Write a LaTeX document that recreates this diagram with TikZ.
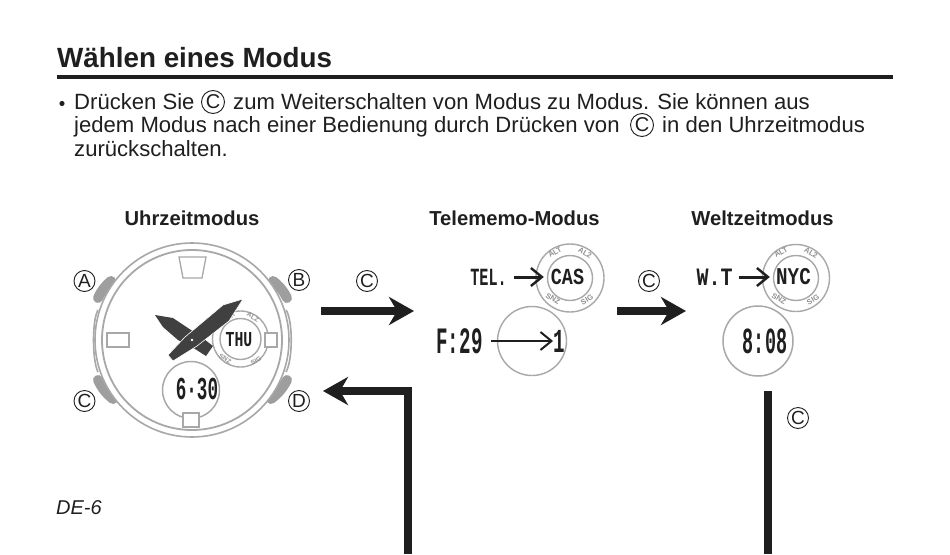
\documentclass[tikz,border=0pt]{standalone}
\usepackage{graphicx}
\usepackage{fontspec}
\setmainfont{Liberation Sans}
\newfontfamily\lcdfont{Liberation Mono}[FakeStretch=0.8]
\usetikzlibrary{arrows.meta}
\definecolor{ink}{gray}{0.12}
\definecolor{watch}{gray}{0.66}
\definecolor{btn}{gray}{0.62}
\definecolor{hand}{gray}{0.25}
\newcommand{\lcdtext}[3]{\scalebox{1}[#2]{\lcdfont\bfseries\fontsize{#1}{#1}\selectfont #3}}
\tikzset{x=1pt,y=-1pt,
 txt/.style={anchor=base west,inner sep=0,text=ink,font=\fontsize{22.1}{25}\selectfont},
 colhead/.style={anchor=base,inner sep=0,text=ink,font=\bfseries\fontsize{20.2}{23}\selectfont},
 circlab/.style={circle,draw=ink,line width=0.9pt,minimum size=21pt,inner sep=0,text=ink,font=\fontsize{19}{19}\selectfont},
 circlabi/.style={circle,draw=ink,line width=0.9pt,minimum size=23pt,inner sep=0,text=ink,font=\fontsize{20}{20}\selectfont},
 wl/.style={draw=watch,line width=1.6pt},
 ring/.style={circle,draw=watch,line width=1.4pt,inner sep=0},
 lcd/.style={inner sep=0,text=ink},
 tiny/.style={inner sep=0,text=watch!85!black,font=\bfseries\fontsize{7.5}{7}\selectfont},
 tinier/.style={tiny,font=\bfseries\fontsize{6.5}{6}\selectfont},
 thick arrow/.style={line width=7.5pt,draw=ink,-{Stealth[length=25pt,width=28pt,inset=8pt]}},
 thick line/.style={line width=7.5pt,draw=ink},
 thin arrow/.style={draw=ink,line width=1.4pt,-{Straight Barb[length=11pt,width=18pt,line width=2pt]}},
 med arrow/.style={draw=ink,line width=3pt,shorten >=3pt,-{Straight Barb[length=11pt,width=18pt,line width=2.4pt]}},
 lug/.style={line width=10pt,draw=btn,line cap=round}}
\begin{document}
\begin{tikzpicture}
\useasboundingbox (0,0) rectangle (950,554);
\fill[white] (0,0) rectangle (950,554);
% heading
\node[anchor=base west,inner sep=0,text=ink,font=\bfseries\fontsize{27.8}{30}\selectfont] (title) at (57,67) {Wählen eines Modus};
\coordinate (ruleL) at (57,77); \coordinate (ruleR) at (893,77);
\draw[ink,line width=3.2pt] (ruleL) -- (ruleR);
% body
\fill[ink] (62,103.5) circle (2.6);
\node[txt] (l1a) at (74,109) {Drücken Sie};
\node[circlabi] (c1) at (213,102) {C};
\node[txt] (l1b) at (233,109) {zum Weiterschalten von Modus zu Modus. Sie können aus};
\node[txt] (l2a) at (74,132) {jedem Modus nach einer Bedienung durch Drücken von};
\node[circlabi] (c2) at (642,125) {C};
\node[txt] (l2b) at (662,132) {in den Uhrzeitmodus};
\node[txt] (l3) at (74,156) {zurückschalten.};
% column heads
\node[colhead] (h1) at (192,225) {Uhrzeitmodus};
\node[colhead] (h2) at (514.5,225) {Telememo-Modus};
\node[colhead] (h3) at (762.5,225) {Weltzeitmodus};
% watch lugs
\draw[lug] (98,298) to[bend left=12] (111,281);
\draw[lug] (287,298) to[bend right=12] (273,281);
\draw[lug] (98,380) to[bend right=12] (113,399);
\draw[lug] (287,380) to[bend left=12] (271,399);
% watch case
\draw[wl,fill=white] (192,340) circle (97);
\draw[wl] (98,310) .. controls (92,320) and (92,360) .. (98,372);
\draw[wl] (286,310) .. controls (293,320) and (293,360) .. (286,372);
\draw[wl,line width=1.8pt] (192,340) circle (90);
\draw[wl,line width=1.3pt] (179,257) -- (206,257) -- (202,278) -- (183,278) -- cycle;
\draw[wl,line width=1.3pt] (107,333) rectangle (129,347);
% day subdial
\node[ring,minimum size=56pt,fill=white] (sub) at (240.5,339) {};
\node[ring,minimum size=41pt,fill=white] (subi) at (240.5,339) {};
\node[lcd] (thu) at (239,340) {\lcdtext{18.5}{1.15}{THU}};
\node[tinier,rotate=-30] (s1) at (253,317) {ALZ};
\node[tinier,rotate=30] (s2) at (230,317) {ALT};
\node[tinier,rotate=-30] (s3) at (225,359) {SNZ};
\node[tinier,rotate=30] (s4) at (256,361) {SIG};
\draw[wl,line width=1.3pt,fill=white] (265,333) rectangle (277,347);
% date subdial
\node[ring,minimum size=57pt,line width=1.5pt,fill=white] (date) at (191,390) {};
\node[lcd] (d630) at (197,389) {\lcdtext{22}{1.45}{6·30}};
\draw[wl,line width=1.3pt,fill=white] (183,413) rectangle (199,427);
% hands
\fill[hand] (155,315) -- (173,318) -- (200,336) -- (213,346) -- (206,356) -- (192,347) -- (178,340) -- (163,327) -- cycle;
\fill[hand,draw=white,line width=0.6pt] (243,299) -- (223,305) -- (185,337) -- (168,355) -- (173,361) -- (197,346) -- (229,321) -- cycle;
\fill[white] (192,340) circle (1.3);
% button labels
\node[circlab] (A) at (84.5,281) {A};
\node[circlab] (B) at (299,280) {B};
\node[circlab] (C) at (84.5,401) {C};
\node[circlab] (D) at (299,401) {D};
% flow arrows
\coordinate (a1s) at (321,311); \coordinate (a1e) at (414,311);
\draw[thick arrow] (a1s) -- (a1e);
\coordinate (a2s) at (617,311); \coordinate (a2e) at (686,311);
\draw[thick arrow] (a2s) -- (a2e);
\coordinate (r1) at (768,391); \coordinate (r2) at (768,554);
\draw[thick line] (r1) -- (r2);
\coordinate (r3) at (408,554); \coordinate (r4) at (408,391); \coordinate (r5) at (323,391);
\draw[thick arrow] (r3) -- (r4) -- (r5);
\node[circlab] (c3) at (367,281) {C};
\node[circlab] (c4) at (649,281) {C};
\node[circlab] (c5) at (798,418) {C};
% telememo
\node[ring,minimum size=68pt] (tel) at (570,278) {};
\node[ring,minimum size=45pt,fill=white] (teli) at (570,278) {};
\node[lcd] (cas) at (567.5,277) {\lcdtext{23}{1}{CAS}};
\node[tiny,rotate=30] (t1) at (555,252) {ALT};
\node[tiny,rotate=-30] (t2) at (585,253) {AL2};
\node[tiny,rotate=-30] (t3) at (553,299) {SNZ};
\node[tiny,rotate=30] (t4) at (587,300) {SIG};
\node[lcd] (telt) at (488.5,277) {\lcdtext{19}{1.3}{TEL.}};
\coordinate (ta) at (514,277);
\draw[med arrow] (ta) -- (teli.west|-ta);
\node[ring,minimum size=69pt] (f) at (532,341) {};
\node[lcd] (ft) at (459.5,341.5) {\lcdtext{24}{1.55}{F:29}};
\node[lcd] (one) at (559,341) {\lcdtext{24}{1.4}{1}};
\coordinate (fa) at (491,341);
\draw[thin arrow] (fa) -- (one.west);
% world time
\node[ring,minimum size=67pt] (wt) at (796,278) {};
\node[ring,minimum size=45pt,fill=white] (wti) at (796,278) {};
\node[lcd] (nyc) at (793.5,277) {\lcdtext{24}{1}{NYC}};
\node[tiny,rotate=30] (w1) at (781,252) {ALT};
\node[tiny,rotate=-30] (w2) at (811,253) {AL2};
\node[tiny,rotate=-30] (w3) at (779,299) {SNZ};
\node[tiny,rotate=30] (w4) at (813,300) {SIG};
\node[lcd] (wtt) at (714.5,277) {\lcdtext{25}{1}{W.T}};
\coordinate (wa) at (739,277);
\draw[med arrow] (wa) -- (wti.west|-wa);
\node[ring,minimum size=70pt,line width=1.5pt] (wc) at (758,341) {};
\node[lcd] (t808) at (765,341) {\lcdtext{23}{1.6}{8:08}};
% page number
\node[anchor=base west,inner sep=0,text=ink,font=\itshape\fontsize{20}{24}\selectfont] (de) at (56,514) {DE-6};
\end{tikzpicture}
\end{document}
